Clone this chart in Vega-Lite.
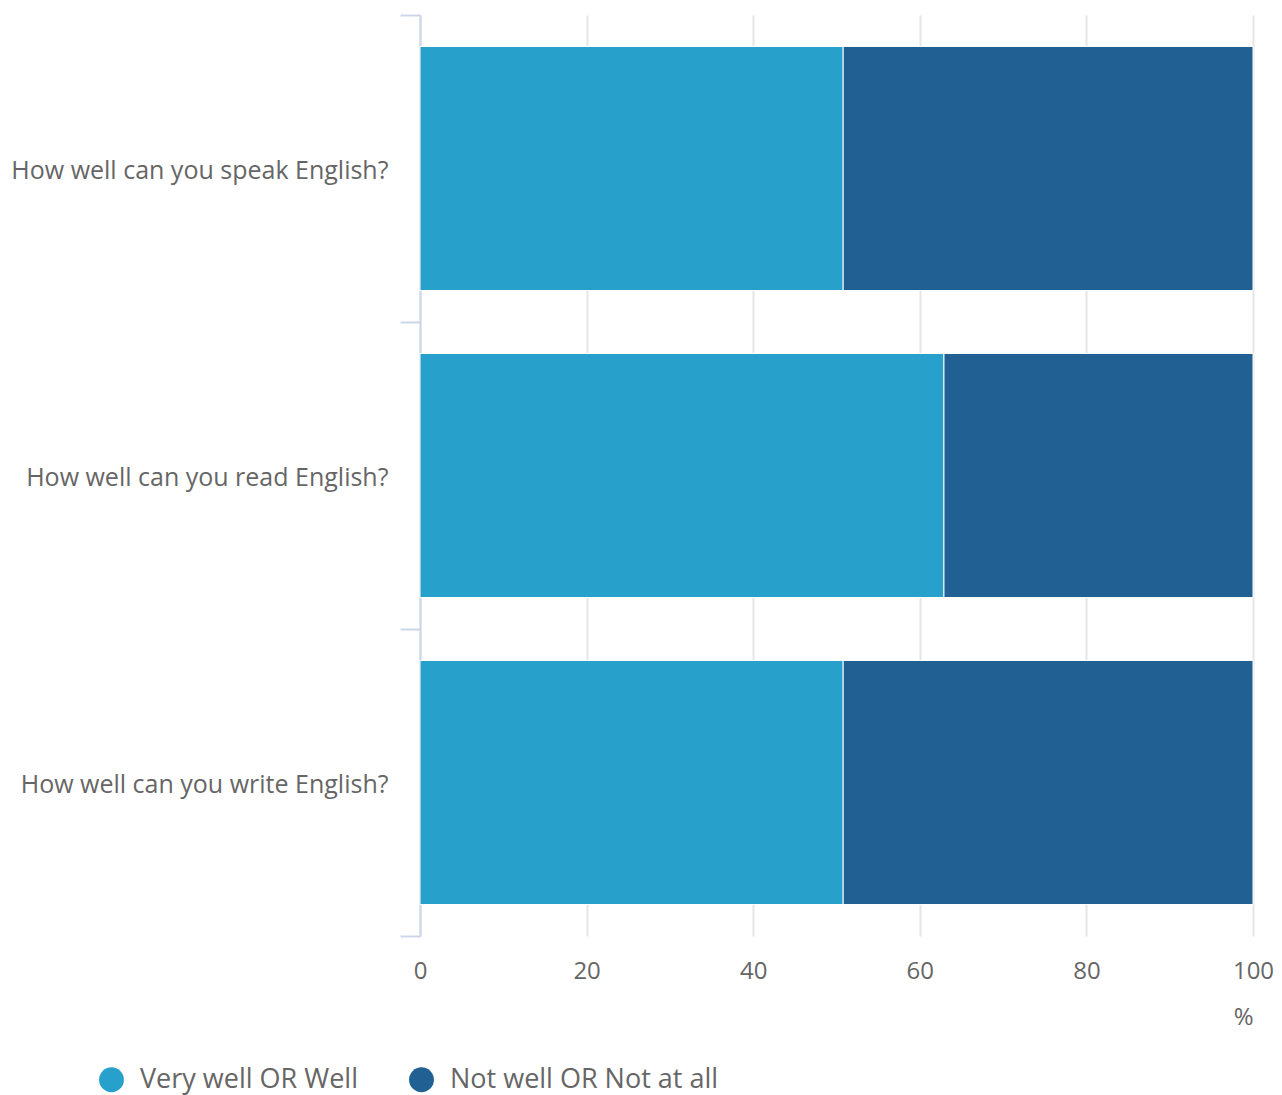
{
  "$schema": "https://vega.github.io/schema/vega-lite/v6.json",
  "width": 833,
  "height": 921,
  "autosize": "none",
  "padding": {"left": 420, "top": 15, "right": 29, "bottom": 159},
  "background": "#ffffff",
  "config": {"view": {"stroke": null}, "font": "Open Sans"},
  "data": {
    "values": [
      {"q": "How well can you speak English?", "resp": "Very well OR Well", "k": 1, "pct": 50.8},
      {"q": "How well can you speak English?", "resp": "Not well OR Not at all", "k": 2, "pct": 49.2},
      {"q": "How well can you read English?", "resp": "Very well OR Well", "k": 1, "pct": 62.9},
      {"q": "How well can you read English?", "resp": "Not well OR Not at all", "k": 2, "pct": 37.1},
      {"q": "How well can you write English?", "resp": "Very well OR Well", "k": 1, "pct": 50.8},
      {"q": "How well can you write English?", "resp": "Not well OR Not at all", "k": 2, "pct": 49.2}
    ]
  },
  "mark": {"type": "bar", "stroke": "#ffffff", "strokeWidth": 1, "height": {"band": 0.795}},
  "encoding": {
    "y": {
      "field": "q", "type": "nominal", "sort": null,
      "scale": {"paddingInner": 0, "paddingOuter": 0},
      "axis": {
        "title": null, "tickBand": "extent", "tickSize": 20, "tickWidth": 2, "tickColor": "#ccd6eb",
        "domainColor": "#ccd6eb", "domainWidth": 2, "labelFontSize": 25, "labelColor": "#666666",
        "labelPadding": 12, "labelLimit": 420, "labelOffset": 2, "grid": false
      }
    },
    "x": {
      "field": "pct", "type": "quantitative", "stack": "zero",
      "scale": {"domain": [0, 100], "nice": false},
      "axis": {
        "title": "%", "titleAnchor": "end", "titleFontSize": 24, "titleFontWeight": "normal", "titleColor": "#666666",
        "titlePadding": 22, "values": [0, 20, 40, 60, 80, 100], "ticks": false, "domain": false, "labelFlush": false,
        "labelFontSize": 24, "labelColor": "#666666", "labelPadding": 23, "grid": true, "gridColor": "#e6e6e6", "gridWidth": 2
      }
    },
    "color": {
      "field": "resp", "type": "nominal",
      "scale": {"domain": ["Very well OR Well", "Not well OR Not at all"], "range": ["#28a0cc", "#216093"]},
      "legend": {
        "title": null, "orient": "none", "direction": "horizontal", "legendX": -322, "legendY": 1051,
        "symbolType": "circle", "symbolSize": 620, "symbolStrokeWidth": 0, "labelFontSize": 27, "labelColor": "#666666",
        "labelOffset": 15, "columnPadding": 50, "labelLimit": 400
      }
    },
    "order": {"field": "k", "type": "quantitative"}
  }
}
